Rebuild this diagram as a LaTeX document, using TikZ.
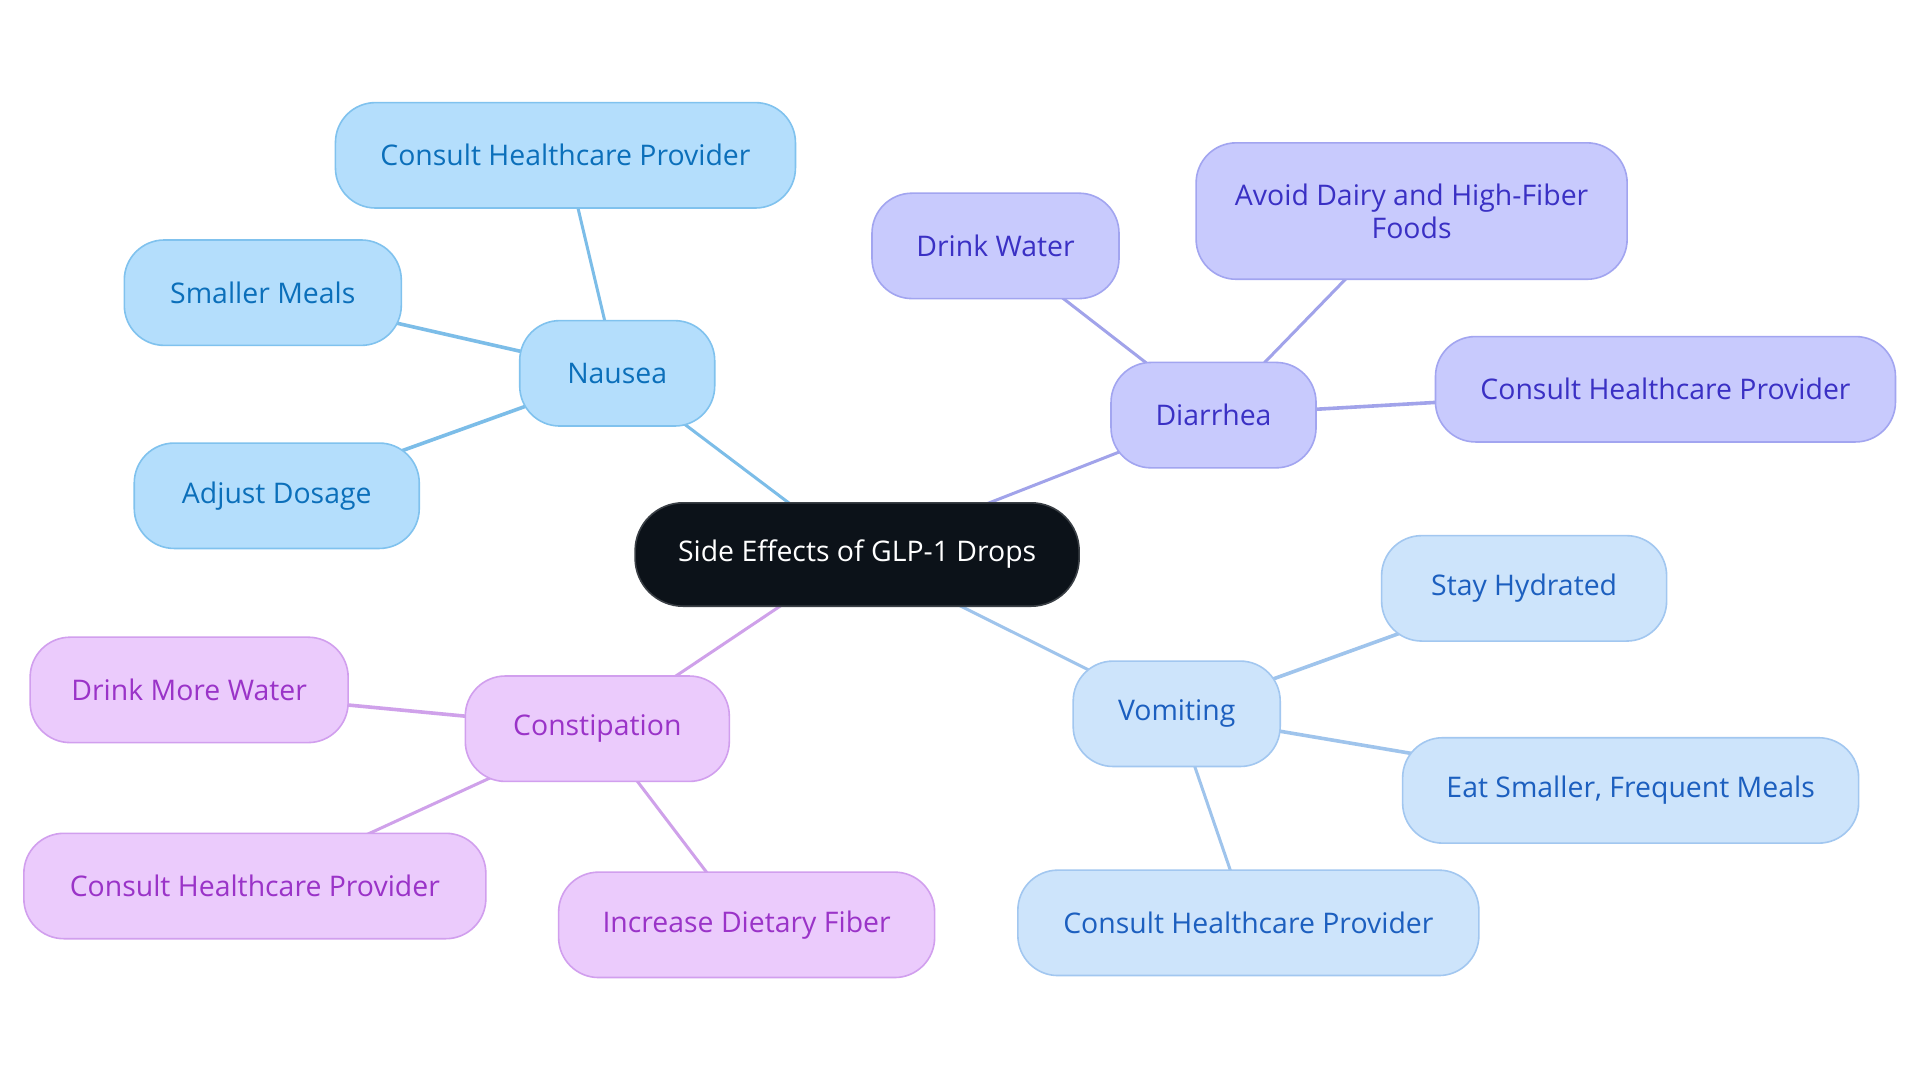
\documentclass[tikz,border=0pt]{standalone}
\usepackage{fontspec}
\setmainfont{Open Sans}
\usetikzlibrary{backgrounds}
\definecolor{nfill}{HTML}{B4DEFC}
\definecolor{ndraw}{HTML}{80C2EE}
\definecolor{ntext}{HTML}{0B6FBA}
\definecolor{nline}{HTML}{7CBDE8}
\definecolor{dfill}{HTML}{C8CAFD}
\definecolor{ddraw}{HTML}{A2A5F0}
\definecolor{dtext}{HTML}{3A30C4}
\definecolor{dline}{HTML}{A1A3EA}
\definecolor{vfill}{HTML}{CDE4FB}
\definecolor{vdraw}{HTML}{A2C7F0}
\definecolor{vtext}{HTML}{1C5FBF}
\definecolor{vline}{HTML}{9FC4EC}
\definecolor{cfill}{HTML}{EBCBFC}
\definecolor{cdraw}{HTML}{D19FEE}
\definecolor{ctext}{HTML}{9A33C8}
\definecolor{cline}{HTML}{CFA1EA}
\definecolor{rootfill}{HTML}{0C1219}
\definecolor{rootdraw}{HTML}{3A3F45}
\tikzset{
  box/.style={draw, rounded corners=20pt, line width=0.8pt, align=center,
    font=\fontsize{14.2}{16.5}\selectfont, inner sep=0pt, minimum height=52.7pt},
  rootbox/.style={box, fill=rootfill, draw=rootdraw, text=white, minimum height=51.7pt, rounded corners=24pt},
  nbox/.style={box, fill=nfill, draw=ndraw, text=ntext},
  dbox/.style={box, fill=dfill, draw=ddraw, text=dtext},
  vbox/.style={box, fill=vfill, draw=vdraw, text=vtext},
  cbox/.style={box, fill=cfill, draw=cdraw, text=ctext},
  edge1/.style={line width=1.5pt},
  edge2/.style={line width=1.8pt}
}
\begin{document}
\begin{tikzpicture}[x=0.5pt,y=-0.5pt]
\useasboundingbox (0,0) rectangle (1920,1083);

\begin{scope}[scale=0.9955]
\node[rootbox, minimum width=222pt] (root) at (861,557) {Side Effects of GLP-1 Drops};

\node[nbox, minimum width=97.5pt] (nau) at (620,375) {Nausea};
\node[nbox, minimum width=230pt] (nauc) at (568,156) {Consult Healthcare Provider};
\node[nbox, minimum width=138.5pt] (naus) at (264,294) {Smaller Meals};
\node[nbox, minimum width=142.5pt] (naua) at (278,498) {Adjust Dosage};

\node[dbox, minimum width=102.5pt] (dia) at (1219,417) {Diarrhea};
\node[dbox, minimum width=123.5pt] (diaw) at (1000,247) {Drink Water};
\node[dbox, minimum width=215.5pt, minimum height=68.2pt] (diaa) at (1418,212) {Avoid Dairy and High-Fiber\\Foods};
\node[dbox, minimum width=230pt] (diac) at (1673,391) {Consult Healthcare Provider};

\node[vbox, minimum width=103.5pt] (vom) at (1182,717) {Vomiting};
\node[vbox, minimum width=142.5pt] (voms) at (1531,591) {Stay Hydrated};
\node[vbox, minimum width=228pt] (vome) at (1638,794) {Eat Smaller, Frequent Meals};
\node[vbox, minimum width=230.5pt] (vomc) at (1254,927) {Consult Healthcare Provider};

\node[cbox, minimum width=132pt] (con) at (600,732) {Constipation};
\node[cbox, minimum width=159pt] (conw) at (190,693) {Drink More Water};
\node[cbox, minimum width=231pt] (conc) at (256,890) {Consult Healthcare Provider};
\node[cbox, minimum width=188pt] (conf) at (750,929) {Increase Dietary Fiber};
\end{scope}

\begin{scope}[on background layer]
\fill[white] (0,0) rectangle (1920,1083);
\draw[edge1, nline] (root.center) -- (nau.center);
\draw[edge1, nline] (nau.center) -- (nauc.center);
\draw[edge2, nline] (nau.center) -- (naus.center);
\draw[edge2, nline] (nau.center) -- (naua.center);
\draw[edge1, dline] (root.center) -- (dia.center);
\draw[edge1, dline] (dia.center) -- (diaw.center);
\draw[edge1, dline] (dia.center) -- (diaa.center);
\draw[edge2, dline] (dia.center) -- (diac.center);
\draw[edge1, vline] (root.center) -- (vom.center);
\draw[edge2, vline] (vom.center) -- (voms.center);
\draw[edge2, vline] (vom.center) -- (vome.center);
\draw[edge1, vline] (vom.center) -- (vomc.center);
\draw[edge1, cline] (root.center) -- (con.center);
\draw[edge2, cline] (con.center) -- (conw.center);
\draw[edge1, cline] (con.center) -- (conc.center);
\draw[edge1, cline] (con.center) -- (conf.center);
\end{scope}
\end{tikzpicture}
\end{document}
